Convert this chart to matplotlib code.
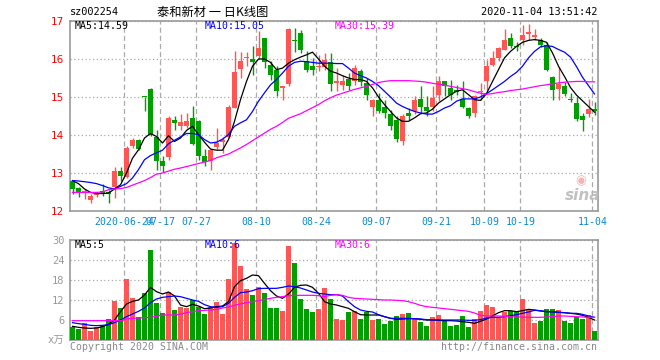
import numpy as np
import matplotlib.pyplot as plt

opens = [12.78, 12.61, 12.50, 12.29, 12.41, 12.52, 12.51, 12.63, 13.05, 12.90,
         13.70, 13.88, 15.00, 15.22, 13.95, 13.31, 13.42, 14.40, 14.25, 14.25,
         14.45, 14.37, 13.46, 13.31, 13.68, 13.81, 13.95, 14.72, 15.75, 16.03,
         16.00, 16.07, 16.54, 15.85, 15.70, 15.24, 15.33, 16.50, 16.68, 15.96,
         15.82, 15.78, 15.78, 15.92, 15.37, 15.32, 15.47, 15.41, 15.68, 15.37,
         14.74, 14.91, 14.74, 14.54, 14.40, 13.83, 14.58, 14.62, 14.96, 14.74,
         14.74, 15.06, 15.41, 15.24, 15.18, 14.95, 14.71, 14.58, 15.13, 15.41,
         15.85, 16.03, 16.25, 16.55, 16.34, 16.51, 16.66, 16.58, 16.51, 16.38,
         15.53, 15.21, 15.30, 14.94, 14.84, 14.51, 14.55, 14.68]
closes = [12.58, 12.49, 12.53, 12.39, 12.46, 12.46, 12.46, 13.04, 12.91, 13.65,
          13.88, 13.63, 14.99, 14.00, 13.31, 13.19, 14.44, 14.32, 14.33, 14.38,
          13.77, 13.46, 13.28, 13.61, 13.79, 13.88, 14.74, 15.66, 15.96, 16.06,
          15.93, 16.28, 15.92, 15.57, 15.15, 15.28, 16.80, 16.48, 16.23, 15.72,
          15.72, 15.82, 15.98, 15.34, 15.41, 15.41, 15.28, 15.76, 15.39, 15.04,
          14.93, 14.62, 14.58, 14.23, 13.89, 14.51, 14.49, 14.93, 14.75, 14.62,
          14.97, 15.41, 15.28, 15.04, 15.12, 14.74, 14.49, 15.02, 15.16, 15.81,
          16.03, 16.29, 16.51, 16.35, 16.32, 16.64, 16.70, 16.62, 16.38, 15.72,
          15.19, 15.35, 15.09, 14.92, 14.42, 14.40, 14.68, 14.64]
highs = [12.82, 12.63, 12.57, 12.45, 12.49, 12.72, 12.56, 13.16, 13.16, 13.72,
         13.92, 13.90, 15.01, 15.24, 14.12, 13.46, 14.49, 14.51, 14.56, 14.58,
         14.77, 14.40, 13.63, 13.63, 14.18, 13.96, 14.80, 16.20, 16.18, 16.18,
         16.33, 16.73, 16.56, 15.94, 15.81, 15.30, 16.82, 16.82, 16.77, 16.20,
         16.03, 16.11, 16.16, 16.16, 15.76, 15.59, 15.63, 15.85, 15.74, 15.50,
         14.95, 15.11, 14.93, 14.67, 14.50, 14.55, 14.70, 15.02, 15.30, 15.02,
         15.28, 15.56, 15.43, 15.46, 15.32, 15.41, 14.75, 15.05, 15.37, 15.98,
         16.20, 16.31, 16.79, 16.68, 16.46, 16.90, 16.93, 16.79, 16.56, 16.46,
         15.55, 15.79, 15.39, 15.11, 15.00, 14.58, 14.94, 14.88]
lows = [12.45, 12.36, 12.32, 12.22, 12.37, 12.40, 12.21, 12.33, 12.79, 12.88,
        13.66, 13.60, 14.62, 13.98, 13.09, 13.02, 13.35, 14.14, 14.14, 14.18,
        13.75, 13.35, 13.19, 13.09, 13.63, 13.53, 13.93, 14.70, 15.50, 15.81,
        15.59, 16.00, 15.76, 15.46, 15.02, 14.93, 15.30, 16.19, 16.16, 15.65,
        15.59, 15.68, 15.72, 15.15, 15.15, 15.19, 15.19, 15.32, 15.28, 14.93,
        14.49, 14.57, 14.45, 14.12, 13.81, 13.73, 14.40, 14.55, 14.58, 14.49,
        14.62, 14.89, 15.02, 14.93, 15.06, 14.70, 14.45, 14.47, 14.93, 15.19,
        15.81, 15.94, 16.23, 16.29, 16.20, 16.37, 16.51, 16.49, 16.32, 15.68,
        14.91, 14.91, 15.02, 14.86, 14.38, 14.10, 14.48, 14.53]

# Price moving averages
ma5 = [12.80, 12.72, 12.58, 12.49, 12.46, 12.46, 12.47, 12.58, 12.69, 13.00,
       13.39, 13.61, 13.92, 14.04, 13.96, 13.79, 13.98, 13.83, 13.92, 14.12,
       14.23, 14.01, 13.81, 13.63, 13.60, 13.60, 13.88, 14.36, 14.93, 15.41,
       15.81, 16.00, 16.00, 15.91, 15.72, 15.76, 15.89, 15.98, 16.05, 16.11,
       16.18, 16.00, 15.81, 15.68, 15.63, 15.56, 15.50, 15.46, 15.46, 15.41,
       15.24, 15.00, 14.80, 14.62, 14.45, 14.36, 14.36, 14.45, 14.56, 14.58,
       14.68, 14.84, 14.95, 15.06, 15.15, 15.19, 15.06, 14.93, 14.91, 15.09,
       15.41, 15.72, 16.03, 16.20, 16.33, 16.44, 16.49, 16.51, 16.49, 16.44,
       16.16, 15.81, 15.54, 15.25, 15.05, 14.90, 14.75, 14.60]
ma10 = [12.80, 12.79, 12.77, 12.75, 12.72, 12.67, 12.61, 12.58, 12.65, 12.72,
        12.87, 13.09, 13.35, 13.46, 13.53, 13.60, 13.77, 13.86, 13.95, 14.04,
        14.04, 14.01, 13.88, 13.79, 13.81, 13.89, 14.01, 14.23, 14.32, 14.40,
        14.62, 14.89, 15.11, 15.32, 15.46, 15.63, 15.81, 15.91, 15.94, 15.93,
        15.91, 15.89, 15.89, 15.89, 15.88, 15.88, 15.76, 15.63, 15.56, 15.50,
        15.41, 15.30, 15.15, 15.00, 14.84, 14.75, 14.68, 14.62, 14.58, 14.55,
        14.55, 14.62, 14.71, 14.77, 14.89, 14.95, 14.95, 14.95, 15.00, 15.09,
        15.19, 15.30, 15.41, 15.54, 15.65, 15.81, 16.03, 16.20, 16.32, 16.35,
        16.33, 16.25, 16.18, 16.05, 15.80, 15.52, 15.30, 15.08]
ma30 = [12.49, 12.49, 12.49, 12.49, 12.49, 12.50, 12.56, 12.58, 12.59, 12.62,
        12.68, 12.74, 12.80, 12.88, 12.97, 13.00, 13.05, 13.10, 13.13, 13.17,
        13.21, 13.25, 13.29, 13.33, 13.40, 13.45, 13.50, 13.58, 13.66, 13.75,
        13.85, 13.95, 14.05, 14.15, 14.23, 14.33, 14.44, 14.50, 14.56, 14.64,
        14.72, 14.80, 14.90, 14.98, 15.05, 15.10, 15.15, 15.20, 15.24, 15.28,
        15.33, 15.38, 15.41, 15.43, 15.43, 15.43, 15.43, 15.42, 15.41, 15.39,
        15.36, 15.34, 15.31, 15.28, 15.25, 15.22, 15.19, 15.14, 15.10, 15.07,
        15.09, 15.12, 15.14, 15.17, 15.19, 15.21, 15.24, 15.27, 15.30, 15.32,
        15.35, 15.37, 15.39, 15.40, 15.41, 15.41, 15.40, 15.40]

# Volume (x 10k lots) and its moving averages
volume = [4.0, 3.2, 5.0, 2.8, 4.0, 4.5, 6.2, 11.8, 9.6, 18.3,
          12.6, 6.8, 14.2, 27.0, 11.2, 8.0, 14.5, 9.0, 9.8, 9.5,
          12.0, 9.8, 7.8, 9.8, 11.5, 7.8, 18.3, 29.0, 22.2, 15.2,
          13.5, 15.8, 14.0, 9.7, 9.7, 8.8, 28.2, 23.0, 12.3, 9.3,
          8.5, 9.3, 15.5, 12.3, 6.3, 6.0, 8.4, 8.7, 6.3, 8.4,
          6.0, 6.3, 4.8, 5.7, 7.2, 7.8, 8.1, 6.5, 5.4, 4.2,
          6.8, 7.5, 5.7, 4.2, 4.5, 7.2, 3.9, 6.3, 8.7, 10.6,
          9.9, 6.6, 8.5, 8.8, 8.4, 12.3, 9.0, 5.1, 5.8, 9.3,
          9.3, 9.0, 5.8, 5.1, 7.0, 6.3, 7.4, 2.7]
vma5 = [4.1, 3.8, 3.6, 3.5, 3.6, 4.0, 4.7, 6.0, 8.5, 10.8,
        11.6, 12.0, 13.5, 15.8, 14.5, 13.8, 14.4, 13.2, 10.5, 10.0,
        10.7, 10.2, 9.4, 9.6, 10.0, 10.2, 11.5, 16.0, 17.8, 18.5,
        19.5, 19.3, 17.0, 14.8, 13.2, 12.5, 13.8, 15.8, 16.4, 16.5,
        15.8, 14.0, 11.5, 10.8, 10.5, 10.0, 9.5, 8.5, 7.6, 7.5,
        7.5, 7.5, 7.0, 6.5, 6.2, 6.3, 6.4, 6.4, 6.2, 6.0,
        6.0, 5.9, 5.8, 5.8, 5.7, 5.5, 5.3, 5.0, 5.6, 6.3,
        7.2, 8.2, 8.8, 8.8, 8.5, 8.8, 9.2, 9.0, 8.7, 8.5,
        8.5, 8.3, 8.2, 8.0, 7.8, 7.4, 6.8, 6.0]
vma10 = [5.2, 4.9, 4.7, 4.4, 4.3, 4.4, 4.6, 5.2, 6.0, 7.0,
         7.8, 8.6, 9.6, 11.2, 12.3, 12.8, 13.0, 13.2, 13.0, 12.5,
         12.0, 11.6, 10.6, 10.0, 9.8, 10.0, 11.0, 12.8, 14.2, 14.4,
         14.8, 15.4, 15.5, 15.5, 15.5, 15.8, 16.2, 16.0, 15.6, 15.0,
         14.4, 14.0, 13.8, 13.6, 13.6, 13.2, 11.5, 10.0, 9.0, 8.6,
         8.4, 7.6, 7.0, 6.5, 6.5, 6.5, 6.5, 6.4, 6.3, 6.1,
         6.0, 6.0, 6.0, 6.0, 6.0, 6.0, 5.9, 5.9, 6.1, 6.6,
         6.8, 6.8, 7.0, 7.3, 7.6, 8.0, 8.4, 8.9, 8.8, 8.5,
         8.4, 8.3, 8.2, 8.0, 8.0, 7.7, 7.2, 6.8]
vma30 = [5.8, 5.8, 5.8, 5.8, 5.8, 5.8, 5.8, 5.8, 5.8, 6.3,
         6.5, 6.6, 6.7, 6.8, 7.1, 7.5, 7.5, 7.5, 7.8, 8.2,
         8.5, 8.8, 8.9, 9.0, 9.2, 9.6, 9.9, 10.4, 10.8, 11.2,
         11.5, 11.8, 12.2, 12.5, 12.8, 13.0, 13.3, 13.4, 13.4, 13.4,
         13.4, 13.3, 13.0, 13.4, 13.6, 13.4, 12.8, 12.5, 12.4, 12.3,
         12.2, 12.1, 12.0, 12.0, 11.9, 11.8, 11.5, 11.0, 10.4, 10.0,
         9.8, 9.6, 9.4, 9.2, 9.0, 8.8, 8.6, 8.1, 7.4, 7.2,
         7.2, 7.2, 7.1, 7.0, 6.9, 6.9, 6.8, 6.8, 6.8, 6.9,
         7.0, 7.2, 7.2, 7.1, 7.0, 6.9, 6.8, 6.8]

# Date labels and the candle index they sit on
date_idx = [9, 15, 21, 31, 41, 51, 61, 69, 75, 87]
date_labels = ['2020-06-24', '07-17', '07-27', '08-10', '08-24',
               '09-07', '09-21', '10-09', '10-19', '11-04']
price_ticks = [12, 13, 14, 15, 16, 17]
vol_ticks = [0, 6, 12, 18, 24, 30]
vol_tick_labels = ['x万', '6', '12', '18', '24', '30']

RED = '#ff5555'
GREEN = '#009f00'
GRID = '#aaaaaa'
SPINE = '#999999'
MONO = ['DejaVu Sans Mono', 'Noto Sans CJK SC']

W, H = 660, 360
fig = plt.figure(figsize=(W / 100, H / 100), dpi=100)


def px_axes(left, top, right, bottom):
    return fig.add_axes([left / W, 1 - bottom / H, (right - left) / W, (bottom - top) / H])


def ftext(x, y, s, **kw):
    fig.text(x / W, 1 - y / H, s, **kw)


ax = px_axes(70, 21, 598, 211)
axv = px_axes(70, 240, 598, 340)

x = np.arange(len(closes))
o = np.array(opens)
c = np.array(closes)
up = c >= o
colors = np.where(up, RED, GREEN)
bw = 5 / 6
xlim = (-bw / 2, len(x) - bw / 2)
grid_x = [i - bw / 2 + 0.05 for i in date_idx]

# price panel
ax.vlines(x, lows, highs, colors=colors, lw=1, zorder=3)
body = np.maximum(np.abs(c - o), 0.025)
ax.bar(x, body, bottom=np.minimum(o, c), width=bw, color=colors, zorder=4, linewidth=0)
ax.plot(x, ma5, color='black', lw=0.9, zorder=5)
ax.plot(x, ma10, color='#0000ff', lw=0.9, zorder=5)
ax.plot(x, ma30, color='#ff00ff', lw=0.9, zorder=5)
ax.set_xlim(*xlim)
ax.set_ylim(12, 17)
ax.set_yticks(price_ticks)
ax.set_xticks(grid_x)
ax.set_xticklabels(date_labels, family=MONO, fontsize=7.1)
ax.tick_params(axis='x', length=0, pad=4, labelcolor='#0a8ad2')
ax.tick_params(axis='y', length=0, pad=4, labelcolor='red', labelsize=7.5)
ax.grid(axis='x', color=GRID, ls=(0, (4, 2.5)), lw=0.9)
ax.grid(axis='y', color=GRID, ls=(0, (1, 2)), lw=0.9)

# volume panel
axv.bar(x, volume, width=bw, color=colors, linewidth=0, zorder=3)
axv.plot(x, vma5, color='black', lw=0.9, zorder=4)
axv.plot(x, vma10, color='#0000ff', lw=0.9, zorder=4)
axv.plot(x, vma30, color='#ff00ff', lw=0.9, zorder=4)
axv.set_xlim(*xlim)
axv.set_ylim(0, 30)
axv.set_yticks(vol_ticks)
axv.set_yticklabels(vol_tick_labels, family=MONO, fontsize=7.5)
axv.set_xticks(grid_x)
axv.set_xticklabels([])
axv.tick_params(axis='both', length=0, pad=4, labelcolor='#999999')
axv.grid(axis='x', color=GRID, ls=(0, (4, 2.5)), lw=0.9)
axv.grid(axis='y', color=GRID, ls=(0, (1, 2)), lw=0.9)

for a in (ax, axv):
    a.set_axisbelow(True)
    for sp in a.spines.values():
        sp.set_color(SPINE)
        sp.set_linewidth(1.2)

# header texts
ftext(70, 12, 'sz002254', family=MONO, fontsize=7.4, va='center')
ftext(213, 12, '泰和新材 一 日K线图', family=['Noto Sans CJK SC', 'DejaVu Sans'],
      fontsize=8.8, va='center', ha='center')
ftext(597, 12, '2020-11-04 13:51:42', family=MONO, fontsize=7.4, va='center', ha='right')

ftext(75, 26, 'MA5:14.59', family=MONO, fontsize=7.1, va='center', color='black')
ftext(205, 26, 'MA10:15.05', family=MONO, fontsize=7.1, va='center', color='#0000ff')
ftext(335, 26, 'MA30:15.39', family=MONO, fontsize=7.1, va='center', color='#ff00ff')
ftext(75, 245, 'MA5:5', family=MONO, fontsize=7.1, va='center', color='black')
ftext(205, 245, 'MA10:6', family=MONO, fontsize=7.1, va='center', color='#0000ff')
ftext(335, 245, 'MA30:6', family=MONO, fontsize=7.1, va='center', color='#ff00ff')

ftext(70, 347, 'Copyright 2020 SINA.COM', family=MONO, fontsize=7.1, va='center', color='#888888')
ftext(597, 347, 'http://finance.sina.com.cn', family=MONO, fontsize=7.1, va='center',
      ha='right', color='#888888')

# sina watermark
ftext(581, 181, '◉', fontsize=9, color='#f5a0a0', va='center', ha='center', alpha=0.8)
ftext(583, 195, 'sina', fontsize=11, fontweight='bold', style='italic', color='#bbbbbb',
      va='center', ha='center', alpha=0.9)

plt.savefig('out.png', dpi=100)
